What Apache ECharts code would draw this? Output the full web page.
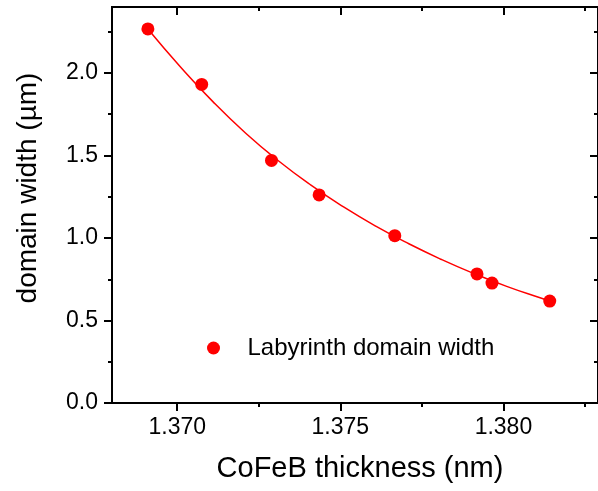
<!DOCTYPE html>
<html>
<head>
<meta charset="utf-8">
<script src="https://cdn.jsdelivr.net/npm/echarts@6/dist/echarts.min.js"></script>
<style>
html,body{margin:0;padding:0;background:#fff;}
#main{width:598px;height:491px;}
</style>
</head>
<body>
<div id="main"></div>
<script>
// measured points (CoFeB thickness nm, domain width um)
var thickness=[1.3691,1.37075,1.37289,1.37435,1.37667,1.37919,1.37965,1.38142];
var width=[2.267,1.931,1.470,1.261,1.014,0.782,0.727,0.618];
// fit curve
var fitX=[1.3691,1.3701,1.3711,1.3721,1.3731,1.3741,1.3751,1.3761,1.3771,1.3781,1.3791,1.3801,1.3811,1.38142];
var fitY=[2.267,2.037,1.825,1.635,1.468,1.320,1.188,1.070,0.965,0.870,0.784,0.707,0.639,0.619];
// ticks
var xMajor=[1.370,1.375,1.380];
var xMinor=[1.3725,1.3775,1.3825];
var yMajor=[0,0.5,1.0,1.5,2.0];
var yMinor=[0.25,0.75,1.25,1.75,2.25];

var font='"Liberation Sans", Arial, sans-serif';
var black='#000';

var pts=[],fit=[];
for(let i=0;i<thickness.length;i++){
    pts.push([thickness[i],width[i]]);
}
for(let i=0;i<fitX.length;i++){
    fit.push([fitX[i],fitY[i]]);
}

function xAx(pos,vals,len,inside,labels,name){
    return {
        type:'value',min:1.368,max:1.3829,position:pos,gridIndex:0,
        name:name||'',nameLocation:'middle',nameGap:51,
        nameTextStyle:{fontFamily:font,fontSize:29,color:black,padding:[0,0,0,10]},
        axisLine:{show:true,onZero:false,lineStyle:{color:black,width:2}},
        axisTick:{show:true,inside:inside,length:len,customValues:vals,lineStyle:{color:black,width:2}},
        axisLabel:{show:labels,customValues:vals,margin:13,fontFamily:font,fontSize:23,color:black,
            formatter:function(v){return v.toFixed(3);}},
        splitLine:{show:false}
    };
}
function yAx(pos,vals,len,inside,labels,name){
    return {
        type:'value',min:0,max:2.4,position:pos,gridIndex:0,
        name:name||'',nameLocation:'middle',nameGap:70,
        nameTextStyle:{fontFamily:font,fontSize:28,color:black,padding:[0,0,0,34]},
        axisLine:{show:true,onZero:false,lineStyle:{color:black,width:2}},
        axisTick:{show:true,inside:inside,length:len,customValues:vals,lineStyle:{color:black,width:2}},
        axisLabel:{show:labels,customValues:vals,margin:14,fontFamily:font,fontSize:23,color:black,
            formatter:function(v){return v.toFixed(1);}},
        splitLine:{show:false}
    };
}

var myChart=echarts.init(document.getElementById('main'),null,{renderer:'canvas'});
var option={
    backgroundColor:'#fff',
    animation:false,
    grid:{left:112,top:7,width:488,height:396,containLabel:false},
    legend:{
        left:202,top:331,
        data:['Labyrinth domain width'],
        icon:'circle',itemWidth:58,itemHeight:13,itemGap:0,
        textStyle:{fontFamily:font,fontSize:24,color:black}
    },
    xAxis:[
        xAx('bottom',xMajor,8,false,true,'CoFeB thickness (nm)'),
        xAx('bottom',xMinor,4,false,false),
        xAx('top',xMajor,8,true,false),
        xAx('top',xMinor,4,true,false)
    ],
    yAxis:[
        yAx('left',yMajor,8,false,true,'domain width (\u00b5m)'),
        yAx('left',yMinor,4,false,false),
        yAx('right',yMajor,8,true,false),
        yAx('right',yMinor,4,true,false)
    ],
    series:[
        {
            name:'fit',type:'line',xAxisIndex:0,yAxisIndex:0,
            data:fit,smooth:true,showSymbol:false,symbol:'none',
            lineStyle:{color:'#ff0000',width:1.5}
        },
        {
            name:'Labyrinth domain width',type:'scatter',xAxisIndex:0,yAxisIndex:0,
            data:pts,symbol:'circle',symbolSize:13,
            itemStyle:{color:'#ff0000',opacity:1}
        }
    ]
};
myChart.setOption(option);
</script>
</body>
</html>
